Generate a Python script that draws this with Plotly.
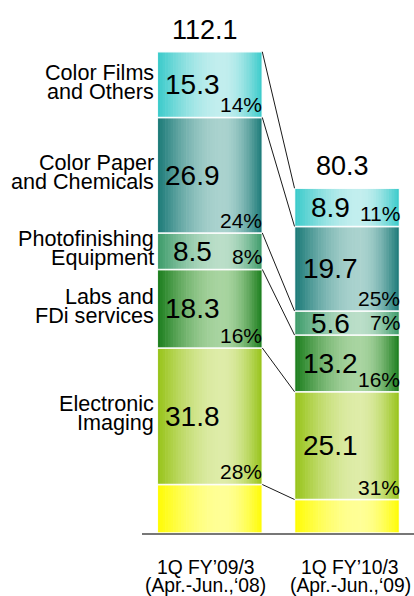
import math
import plotly.graph_objects as go

# ---------------- data ----------------
periods_line1 = ["1Q FY\u201909/3", "1Q FY\u201910/3"]
periods_line2 = ["(Apr.-Jun.,\u201808)", "(Apr.-Jun.,\u201809)"]
totals = [112.1, 80.3]

# segments, bottom to top
other_values = [11.3, 7.8]
electronic_imaging = [31.8, 25.1]
labs_fdi = [18.3, 13.2]
photofinishing_equipment = [8.5, 5.6]
color_paper_chemicals = [26.9, 19.7]
color_films_others = [15.3, 8.9]

electronic_pct = ["28%", "31%"]
labs_pct = ["16%", "16%"]
photofinishing_pct = ["8%", "7%"]
color_paper_pct = ["24%", "25%"]
color_films_pct = ["14%", "11%"]

electronic_name = ["Electronic", "Imaging"]
labs_name = ["Labs and", "FDi services"]
photofinishing_name = ["Photofinishing", "Equipment"]
color_paper_name = ["Color Paper", "and Chemicals"]
color_films_name = ["Color Films", "and Others"]

# ---------------- styles ----------------
FONT = "Liberation Sans, Arial, sans-serif"
segments = [
    dict(values=other_values, pct=None, name=None, edge=(255, 252, 0), light=(255, 255, 150)),
    dict(values=electronic_imaging, pct=electronic_pct, name=electronic_name, edge=(150, 195, 22), light=(222, 236, 168)),
    dict(values=labs_fdi, pct=labs_pct, name=labs_name, edge=(24, 124, 26), light=(168, 212, 160)),
    dict(values=photofinishing_equipment, pct=photofinishing_pct, name=photofinishing_name, edge=(58, 154, 104), light=(186, 222, 200)),
    dict(values=color_paper_chemicals, pct=color_paper_pct, name=color_paper_name, edge=(24, 120, 118), light=(170, 210, 206)),
    dict(values=color_films_others, pct=color_films_pct, name=color_films_name, edge=(56, 202, 202), light=(194, 238, 238)),
]

x_pos = [0, 1]
W = 0.765
N = 40
PEAK = 0.62


def profile(t):
    if t < PEAK:
        return math.sin(math.pi / 2 * t / PEAK)
    return math.sin(math.pi / 2 * (1 - t) / (1 - PEAK))


def mix(a, b, f):
    return "rgb(%d,%d,%d)" % tuple(round(a[i] + (b[i] - a[i]) * f) for i in range(3))


fig = go.Figure()
annotations = []
base = [0.0, 0.0]
for seg in segments:
    vals = seg["values"]
    b = list(base)
    for i in range(N):
        t = (i + 0.5) / N
        off = -W / 2 + i * W / N
        wid = min(W / N * 1.25, W / 2 - off)
        fig.add_trace(go.Bar(
            x=x_pos, y=vals, base=b, width=wid, offset=off,
            marker=dict(color=mix(seg["edge"], seg["light"], profile(t)), line=dict(width=0)),
            showlegend=False, hoverinfo="skip"))
    fig.add_trace(go.Bar(
        x=x_pos, y=vals, base=b, width=W, offset=-W / 2,
        marker=dict(color="rgba(0,0,0,0)", line=dict(color="rgba(255,255,255,0.9)", width=1.5)),
        showlegend=False, hoverinfo="skip"))
    for j in range(2):
        if seg["pct"] is not None:
            annotations.append(dict(
                x=x_pos[j], y=b[j] + vals[j] / 2, xref="x", yref="y", text=str(vals[j]),
                showarrow=False, xanchor="center", yanchor="middle", xshift=-17,
                font=dict(size=28, color="black", family=FONT)))
            annotations.append(dict(
                x=x_pos[j] + W / 2, y=b[j], xref="x", yref="y", text=seg["pct"][j],
                showarrow=False, xanchor="right", yanchor="bottom", xshift=2, yshift=-1,
                font=dict(size=21, color="black", family=FONT)))
    if seg["name"] is not None:
        yc = b[0] + vals[0] / 2
        for k, line in enumerate(seg["name"]):
            annotations.append(dict(
                x=x_pos[0] - W / 2, y=yc, xref="x", yref="y", text=line,
                showarrow=False, xanchor="right", yanchor="middle", xshift=-1,
                yshift=(9.5 if k == 0 else -9.5) + 3,
                font=dict(size=21.6, color="black", family=FONT)))
    base = [b[j] + vals[j] for j in range(2)]

# connector lines between the bars at every segment boundary above the baseline
conn_levels = []
cum = [0.0, 0.0]
for seg in segments:
    cum = [cum[j] + seg["values"][j] for j in range(2)]
    conn_levels.append(list(cum))
for lv in conn_levels:
    fig.add_trace(go.Scatter(
        x=[x_pos[0] + W / 2, x_pos[1] - W / 2], y=lv, mode="lines",
        line=dict(color="#1a1a1a", width=1), showlegend=False, hoverinfo="skip"))

period_shift = [-4, 3]
for j in range(2):
    annotations.append(dict(
        x=x_pos[j], y=totals[j], xref="x", yref="y", text=str(totals[j]),
        showarrow=False, xanchor="center", yanchor="middle", xshift=-5, yshift=22,
        font=dict(size=27, color="black", family=FONT)))
    annotations.append(dict(
        x=x_pos[j], y=0, xref="x", yref="y", text=periods_line1[j],
        showarrow=False, xanchor="center", yanchor="middle", yshift=-34, xshift=period_shift[j],
        font=dict(size=19.3, color="black", family=FONT)))
    annotations.append(dict(
        x=x_pos[j], y=0, xref="x", yref="y", text=periods_line2[j],
        showarrow=False, xanchor="center", yanchor="middle", yshift=-52.5, xshift=period_shift[j],
        font=dict(size=19.3, color="black", family=FONT)))

fig.update_layout(
    width=414, height=596,
    margin=dict(l=142, r=0, t=0, b=63),
    paper_bgcolor="white", plot_bgcolor="white",
    barmode="overlay",
    hovermode=False,
    showlegend=False,
    xaxis=dict(range=[-0.494, 1.488], showticklabels=False, showgrid=False, zeroline=False,
               showline=True, linecolor="#777777", linewidth=2, ticks="", fixedrange=True),
    yaxis=dict(range=[0, 124.15], visible=False, fixedrange=True),
    annotations=annotations,
)

fig.write_html(
    "out.html",
    config={"displayModeBar": False},
    post_script="document.body.style.margin='0';document.body.style.overflow='hidden';",
)
